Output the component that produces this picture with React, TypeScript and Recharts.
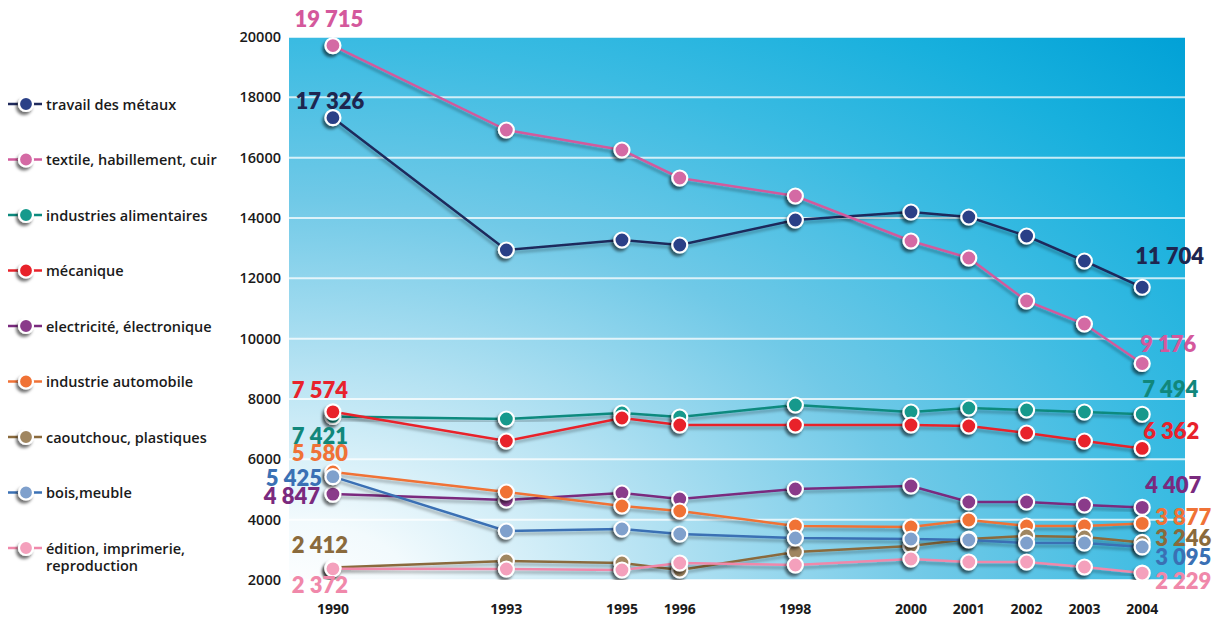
import React from "react";
import {
  LineChart,
  Line,
  XAxis,
  YAxis,
  CartesianGrid,
  LabelList,
} from "recharts";

const years = [1990, 1993, 1995, 1996, 1998, 2000, 2001, 2002, 2003, 2004];
const metaux = [17326, 12940, 13270, 13105, 13934, 14199, 14033, 13403, 12575, 11704];
const textile = [19715, 16917, 16254, 15326, 14729, 13238, 12674, 11249, 10486, 9176];
const alimentaires = [7421, 7337, 7536, 7403, 7801, 7569, 7701, 7635, 7569, 7494];
const mecanique = [7574, 6608, 7370, 7138, 7138, 7138, 7105, 6873, 6608, 6362];
const electricite = [4847, 4652, 4884, 4685, 5017, 5116, 4586, 4586, 4486, 4407];
const automobile = [5580, 4917, 4453, 4287, 3790, 3757, 3989, 3790, 3790, 3877];
const caoutchouc = [2412, 2630, 2564, 2331, 2928, 3127, 3359, 3459, 3425, 3246];
const bois = [5425, 3624, 3691, 3525, 3392, 3359, 3326, 3226, 3226, 3095];
const edition = [2372, 2365, 2331, 2564, 2497, 2696, 2597, 2597, 2431, 2229];
const yTicks = [2000, 4000, 6000, 8000, 10000, 12000, 14000, 16000, 18000, 20000];

type LabelPos = { dx: number; dy: number; anchor: "start" | "middle" | "end" };

const series = [
  { key: "metaux", name: "travail des métaux", values: metaux, line: "#1f2a5c", dot: "#2b3f87", text: "#1e2650",
    first: { dx: -3, dy: -17, anchor: "middle" }, last: { dx: -7, dy: -32, anchor: "start" } },
  { key: "textile", name: "textile, habillement, cuir", values: textile, line: "#d25a9c", dot: "#d46aa4", text: "#d4589c",
    first: { dx: -4, dy: -27, anchor: "middle" }, last: { dx: -2, dy: -20, anchor: "start" } },
  { key: "alimentaires", name: "industries alimentaires", values: alimentaires, line: "#0c8a7e", dot: "#14998c", text: "#11877b",
    first: { dx: -13, dy: 19, anchor: "middle" }, last: { dx: 0, dy: -26, anchor: "start" } },
  { key: "mecanique", name: "mécanique", values: mecanique, line: "#e8222b", dot: "#e8232c", text: "#e8222b",
    first: { dx: -13, dy: -22, anchor: "middle" }, last: { dx: 1, dy: -18, anchor: "start" } },
  { key: "electricite", name: "electricité, électronique", values: electricite, line: "#7a2a7e", dot: "#8a3a8a", text: "#7a2a7e",
    first: { dx: -13, dy: 1, anchor: "end" }, last: { dx: 3, dy: -23, anchor: "start" } },
  { key: "automobile", name: "industrie automobile", values: automobile, line: "#f07236", dot: "#f07236", text: "#f07236",
    first: { dx: -13, dy: -20, anchor: "middle" }, last: { dx: 13, dy: -7, anchor: "start" } },
  { key: "caoutchouc", name: "caoutchouc, plastiques", values: caoutchouc, line: "#8a6a3c", dot: "#a08660", text: "#8a6a3c",
    first: { dx: -13, dy: -23, anchor: "middle" }, last: { dx: 13, dy: -5, anchor: "start" } },
  { key: "bois", name: "bois,meuble", values: bois, line: "#3a70b4", dot: "#7fa0cc", text: "#3a70b4",
    first: { dx: -11, dy: 1, anchor: "end" }, last: { dx: 13, dy: 10, anchor: "start" } },
  { key: "edition", name: "édition, imprimerie,|reproduction", values: edition, line: "#f088aa", dot: "#f4a0bc", text: "#f088aa",
    first: { dx: -13, dy: 16, anchor: "middle" }, last: { dx: 13, dy: 7, anchor: "start" } },
];

const data = years.map((year, i) => {
  const row: Record<string, number> = { year };
  series.forEach((s) => {
    row[s.key] = s.values[i];
  });
  return row;
});

const fmt = (n: number) => String(n).replace(/\B(?=(\d{3})+(?!\d))/g, " ");

const makeDot = (color: string) => (props: any) => {
  const { cx, cy, index } = props;
  if (cx == null || cy == null) return <g key={index} />;
  return (
    <circle key={index} cx={cx} cy={cy} r={7.5} fill={color} stroke="#ffffff" strokeWidth={2.2} filter="url(#dotShadow)" />
  );
};

const makeLabel = (color: string, first: LabelPos, last: LabelPos) => (props: any) => {
  const { x, y, value, index } = props;
  if (index !== 0 && index !== years.length - 1) return null;
  const p = index === 0 ? first : last;
  return (
    <text
      x={Number(x) + p.dx}
      y={Number(y) + p.dy}
      textAnchor={p.anchor}
      dominantBaseline="central"
      fill={color}
      fontFamily="Lato, sans-serif"
      fontWeight={800}
      fontSize={22}
    >
      {fmt(Number(value))}
    </text>
  );
};

// legend drawn beside the chart, same markers as the series
const LegendBox = () => (
  <svg width={235} height={510} style={{ position: "absolute", left: 0, top: 77 }}>
    {series.map((s, i) => {
      const cy = 27 + i * 55.5;
      const lines = s.name.split("|");
      return (
        <g key={s.key}>
          <line x1={8} x2={42} y1={cy} y2={cy} stroke={s.line} strokeWidth={2.5} />
          <circle cx={26} cy={cy} r={7} fill={s.dot} stroke="#fff" strokeWidth={2.2} filter="url(#dotShadow)" />
          {lines.map((t, j) => (
            <text key={j} x={46} y={cy + j * 17} dominantBaseline="central" fontFamily="'Open Sans', sans-serif" fontSize={14.5} fontWeight={600} fill="#1a1a1a">
              {t}
            </text>
          ))}
        </g>
      );
    })}
  </svg>
);

export default function App() {
  return (
    <div style={{ position: "absolute", left: 0, top: 0, width: 1218, height: 621, background: "#fff" }}>
      <svg width={0} height={0} style={{ position: "absolute" }}>
        <defs>
          <filter id="dotShadow" x="-80%" y="-80%" width="260%" height="260%">
            <feDropShadow dx={-2} dy={3} stdDeviation={1.8} floodColor="#000" floodOpacity={0.55} />
          </filter>
        </defs>
      </svg>
      <LineChart width={1218} height={621} data={data} margin={{ top: 37, right: 33, bottom: 0, left: 229 }}>
        <defs>
          <radialGradient
            id="bg"
            gradientUnits="userSpaceOnUse"
            cx={289}
            cy={600}
            r={800}
            gradientTransform="translate(289 600) scale(1.6 1) translate(-289 -600)"
          >
            <stop offset="0" stopColor="#ffffff" />
            <stop offset="0.1" stopColor="#f2fafd" />
            <stop offset="0.3" stopColor="#b2e1f2" />
            <stop offset="0.5" stopColor="#70c9e7" />
            <stop offset="0.7" stopColor="#3abbe2" />
            <stop offset="0.85" stopColor="#18b0dd" />
            <stop offset="1" stopColor="#00a0d6" />
          </radialGradient>
          <filter id="lineShadow" x="-5%" y="-20%" width="110%" height="140%">
            <feDropShadow dx={-1} dy={3} stdDeviation={1.5} floodColor="#000" floodOpacity={0.3} />
          </filter>
        </defs>
        <CartesianGrid vertical={false} fill="url(#bg)" stroke="#ffffff" strokeOpacity={0.75} strokeWidth={2} />
        <XAxis
          dataKey="year"
          type="number"
          domain={[1989.24, 2004.74]}
          ticks={years}
          axisLine={false}
          tickLine={false}
          tickMargin={18}
          height={41}
          tick={{ fontSize: 14, fontWeight: 700, fill: "#1a1a1a", fontFamily: "'Open Sans', sans-serif" }}
        />
        <YAxis
          domain={[2000, 20000]}
          ticks={yTicks}
          axisLine={false}
          tickLine={false}
          width={60}
          allowDataOverflow
          tick={{ fontSize: 14.5, fontWeight: 600, fill: "#1a1a1a", fontFamily: "'Open Sans', sans-serif" }}
        />
        {series.map((s) => (
          <Line
            key={s.key}
            dataKey={s.key}
            name={s.name}
            stroke={s.line}
            strokeWidth={2.5}
            dot={makeDot(s.dot)}
            activeDot={false}
            isAnimationActive={false}
            filter="url(#lineShadow)"
          >
            <LabelList dataKey={s.key} content={makeLabel(s.text, s.first as LabelPos, s.last as LabelPos)} />
          </Line>
        ))}
      </LineChart>
      <LegendBox />
    </div>
  );
}
